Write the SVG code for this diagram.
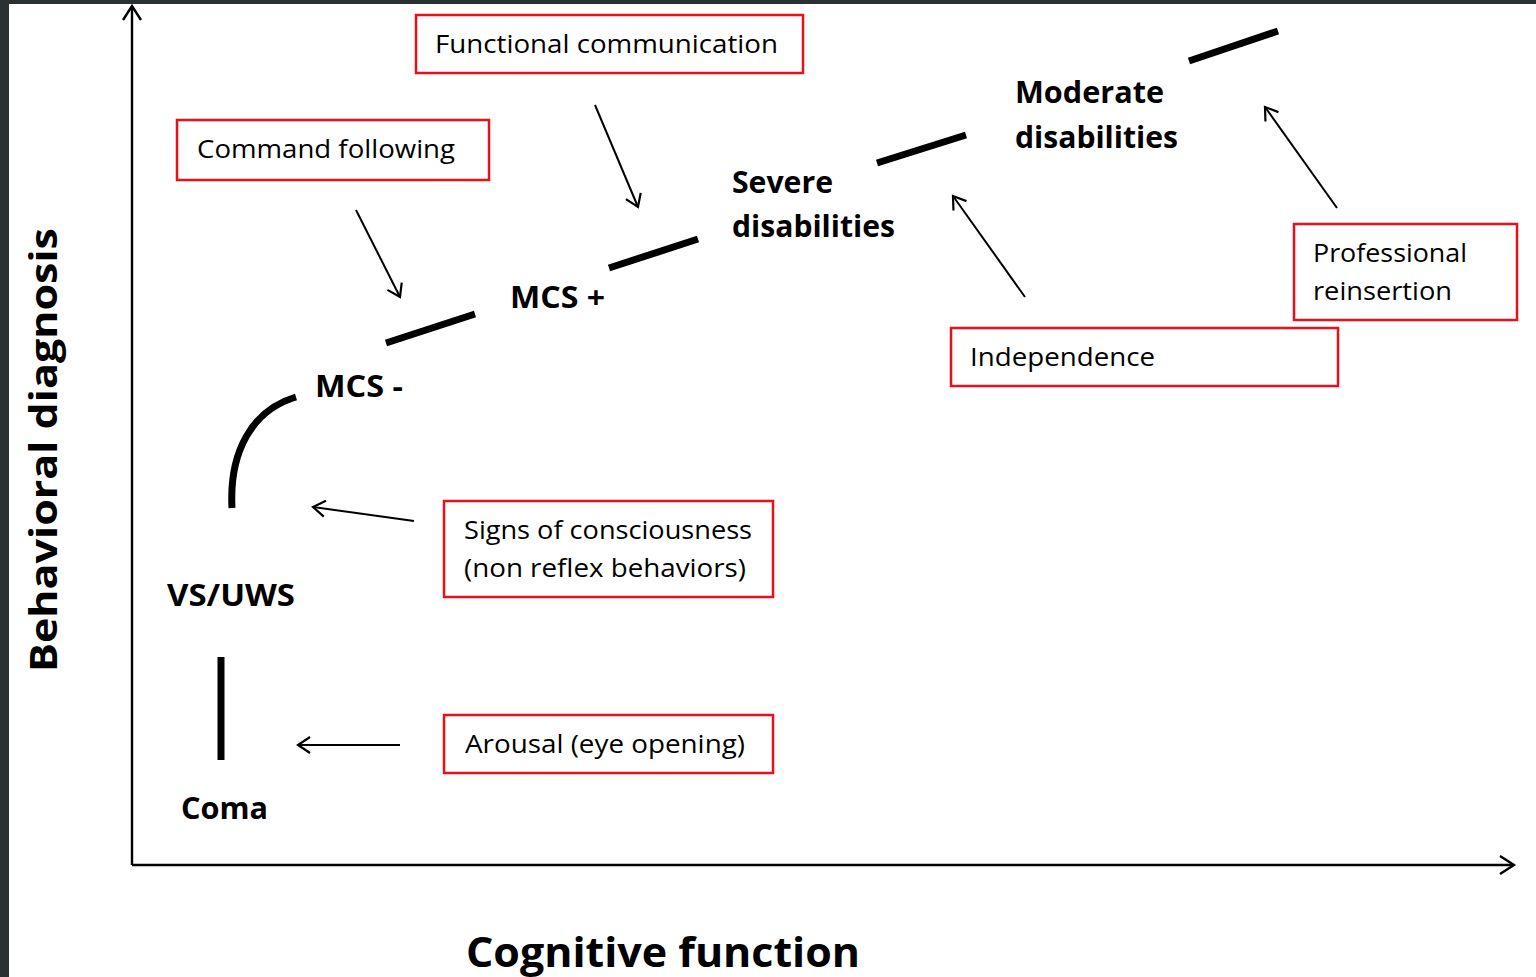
<svg xmlns="http://www.w3.org/2000/svg" width="1536" height="977" viewBox="0 0 1536 977">
<defs>
<marker id="ah" markerUnits="userSpaceOnUse" markerWidth="30" markerHeight="30" refX="15" refY="15" orient="auto">
<path d="M3,7 L15,15 L3,23" fill="none" stroke="#000" stroke-width="2.2"/>
</marker>
<marker id="axh" markerUnits="userSpaceOnUse" markerWidth="30" markerHeight="30" refX="15" refY="15" orient="auto">
<path d="M1,6 L15,15 L1,24" fill="none" stroke="#000" stroke-width="2.4"/>
</marker>
<style>
.box{fill:#fff;stroke:#e8101a;stroke-width:2.5}
.bt{font-family:"Open Sans","Liberation Sans",sans-serif;font-size:25px;fill:#000}
.lb{font-family:"Open Sans","Liberation Sans",sans-serif;font-size:30px;font-weight:bold;fill:#000}
.seg{stroke:#000;stroke-width:7;fill:none}
.arr{stroke:#000;stroke-width:2;fill:none;marker-end:url(#ah)}
</style>
</defs>
<rect x="0" y="0" width="1536" height="977" fill="#2b3033"/>
<rect x="9" y="4" width="1527" height="973" fill="#fff"/>

<g id="axes">
<line x1="132" y1="865" x2="132" y2="6" stroke="#000" stroke-width="2.4" marker-end="url(#axh)"/>
<line x1="132" y1="865" x2="1514" y2="865" stroke="#000" stroke-width="2.4" marker-end="url(#axh)"/>
<text x="57" y="450" transform="rotate(-90 57 450)" text-anchor="middle" font-family="Open Sans, Liberation Sans, sans-serif" font-size="38" font-weight="bold" textLength="444" lengthAdjust="spacingAndGlyphs">Behavioral diagnosis</text>
<text x="466" y="967" font-family="Open Sans, Liberation Sans, sans-serif" font-size="41" font-weight="bold" textLength="394" lengthAdjust="spacingAndGlyphs">Cognitive function</text>
</g>

<g id="curve">
<line class="seg" x1="221" y1="657" x2="221" y2="760"/>
<path class="seg" d="M232,508 C229,452 252,410 296,397"/>
<line class="seg" x1="386" y1="343" x2="475" y2="314"/>
<line class="seg" x1="609" y1="268" x2="698" y2="239"/>
<line class="seg" x1="877" y1="163" x2="966" y2="135"/>
<line class="seg" x1="1189" y1="61" x2="1278" y2="31"/>
</g>

<g id="stage-coma"><text class="lb" x="181" y="819" textLength="87" lengthAdjust="spacingAndGlyphs">Coma</text></g>
<g id="stage-vs"><text class="lb" x="167" y="606" textLength="128" lengthAdjust="spacingAndGlyphs">VS/UWS</text></g>
<g id="stage-mcs-minus"><text class="lb" x="315" y="397" textLength="88" lengthAdjust="spacingAndGlyphs">MCS -</text></g>
<g id="stage-mcs-plus"><text class="lb" x="510" y="308" textLength="95" lengthAdjust="spacingAndGlyphs">MCS +</text></g>
<g id="stage-severe">
<text class="lb" x="732" y="193" textLength="101" lengthAdjust="spacingAndGlyphs">Severe</text>
<text class="lb" x="732" y="237" textLength="163" lengthAdjust="spacingAndGlyphs">disabilities</text>
</g>
<g id="stage-moderate">
<text class="lb" x="1015" y="103" textLength="149" lengthAdjust="spacingAndGlyphs">Moderate</text>
<text class="lb" x="1015" y="148" textLength="163" lengthAdjust="spacingAndGlyphs">disabilities</text>
</g>

<g id="box-functional">
<rect class="box" x="416" y="15" width="387" height="58"/>
<text class="bt" x="435" y="53" textLength="343" lengthAdjust="spacingAndGlyphs">Functional communication</text>
</g>
<g id="box-command">
<rect class="box" x="177" y="120" width="312" height="60"/>
<text class="bt" x="197" y="158" textLength="258" lengthAdjust="spacingAndGlyphs">Command following</text>
</g>
<g id="box-professional">
<rect class="box" x="1294" y="224" width="223" height="96"/>
<text class="bt" x="1313" y="262" textLength="154" lengthAdjust="spacingAndGlyphs">Professional</text>
<text class="bt" x="1313" y="300" textLength="139" lengthAdjust="spacingAndGlyphs">reinsertion</text>
</g>
<g id="box-independence">
<rect class="box" x="951" y="328" width="387" height="58"/>
<text class="bt" x="970" y="366" textLength="185" lengthAdjust="spacingAndGlyphs">Independence</text>
</g>
<g id="box-signs">
<rect class="box" x="444" y="501" width="329" height="96"/>
<text class="bt" x="464" y="539" textLength="288" lengthAdjust="spacingAndGlyphs">Signs of consciousness</text>
<text class="bt" x="464" y="577" textLength="282" lengthAdjust="spacingAndGlyphs">(non reflex behaviors)</text>
</g>
<g id="box-arousal">
<rect class="box" x="444" y="715" width="329" height="58"/>
<text class="bt" x="465" y="753" textLength="280" lengthAdjust="spacingAndGlyphs">Arousal (eye opening)</text>
</g>

<g id="connectors">
<line class="arr" x1="356" y1="210" x2="400" y2="297"/>
<line class="arr" x1="595" y1="105" x2="638" y2="207"/>
<line class="arr" x1="1025" y1="297" x2="953" y2="196"/>
<line class="arr" x1="1337" y1="208" x2="1265" y2="107"/>
<line class="arr" x1="414" y1="521" x2="313" y2="507"/>
<line class="arr" x1="400" y1="745" x2="298" y2="745"/>
</g>
</svg>
